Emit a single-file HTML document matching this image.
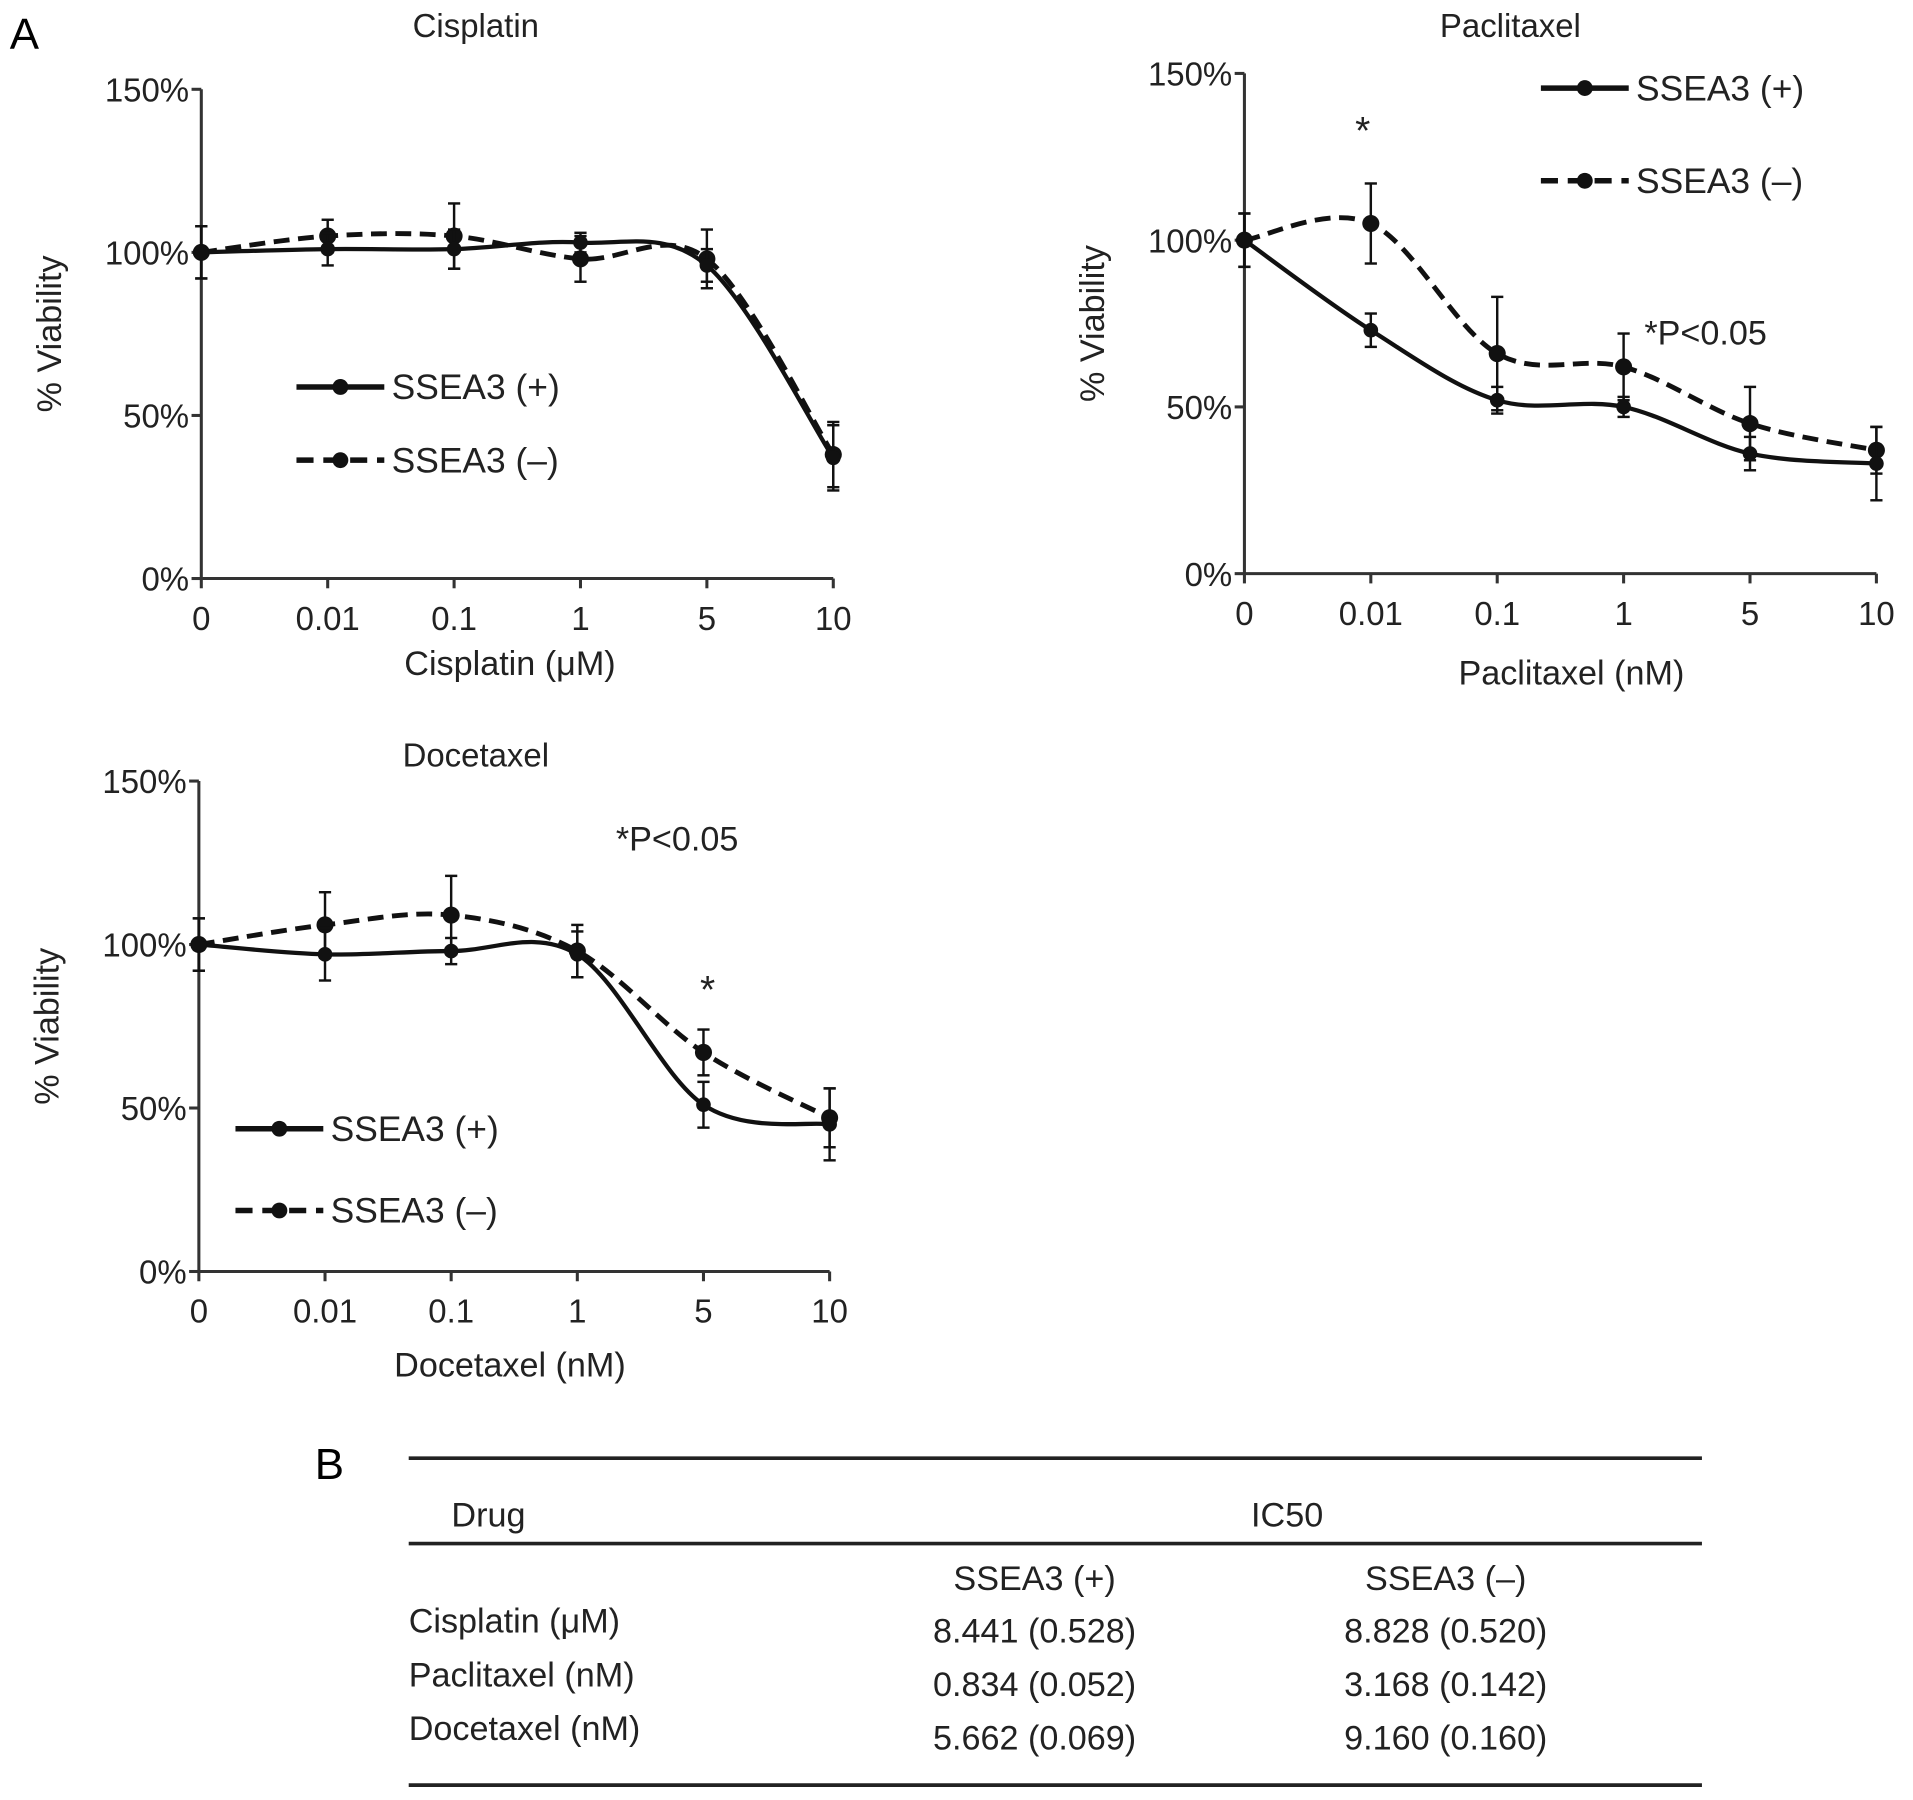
<!DOCTYPE html>
<html><head><meta charset="utf-8"><style>
html,body{margin:0;padding:0;background:#fff;}
svg{display:block;font-family:"Liberation Sans",sans-serif;}
</style></head><body>
<svg id="fig" width="1913" height="1800" viewBox="0 0 1568 1475" xmlns="http://www.w3.org/2000/svg">
<text x="8" y="40" font-size="36">A</text>
<text x="258" y="1212" font-size="36">B</text>
<g id="charts"></g>
<g font-size="28" fill="#222">
<line x1="335" y1="1195" x2="1395" y2="1195" stroke="#222" stroke-width="3"/>
<text x="370" y="1251">Drug</text>
<text x="1055" y="1251" text-anchor="middle">IC50</text>
<line x1="335" y1="1265" x2="1395" y2="1265" stroke="#222" stroke-width="3"/>
<text x="848" y="1303" text-anchor="middle">SSEA3 (+)</text>
<text x="1185" y="1303" text-anchor="middle">SSEA3 (–)</text>
<text x="335" y="1338">Cisplatin (μM)</text>
<text x="335" y="1382">Paclitaxel (nM)</text>
<text x="335" y="1426">Docetaxel (nM)</text>
<text x="848" y="1346" text-anchor="middle">8.441 (0.528)</text>
<text x="1185" y="1346" text-anchor="middle">8.828 (0.520)</text>
<text x="848" y="1390" text-anchor="middle">0.834 (0.052)</text>
<text x="1185" y="1390" text-anchor="middle">3.168 (0.142)</text>
<text x="848" y="1434" text-anchor="middle">5.662 (0.069)</text>
<text x="1185" y="1434" text-anchor="middle">9.160 (0.160)</text>
<line x1="335" y1="1463" x2="1395" y2="1463" stroke="#222" stroke-width="3"/>
</g>
</svg>
<script>
const categories = ["0","0.01","0.1","1","5","10"];
const yTicks = [0,50,100,150];
const cisPos = [100,101,101,103,96,37];
const cisNeg = [100,105,105,98,98,38];
const cisPosErr = [8,5,6,3,5,10];
const cisNegErr = [8,5,10,7,9,10];
const pacPos = [100,73,52,50,36,33];
const pacNeg = [100,105,66,62,45,37];
const pacPosErr = [8,5,4,3,5,11];
const pacNegErr = [8,12,17,10,11,7];
const docPos = [100,97,98,97,51,45];
const docNeg = [100,106,109,98,67,47];
const docPosErr = [8,8,4,7,7,11];
const docNegErr = [8,10,12,8,7,9];

const NS="http://www.w3.org/2000/svg";
const root=document.getElementById('charts');
function mk(tag,attrs,parent){const e=document.createElementNS(NS,tag);for(const k in attrs)e.setAttribute(k,attrs[k]);(parent||root).appendChild(e);return e;}
function spline(pts){let d=`M${pts[0][0]},${pts[0][1]}`;for(let i=0;i<pts.length-1;i++){const p0=pts[Math.max(0,i-1)],p1=pts[i],p2=pts[i+1],p3=pts[Math.min(pts.length-1,i+2)];const c1=[p1[0]+(p2[0]-p0[0])/6,p1[1]+(p2[1]-p0[1])/6];const c2=[p2[0]-(p3[0]-p1[0])/6,p2[1]-(p3[1]-p1[1])/6];d+=` C${c1[0]},${c1[1]} ${c2[0]},${c2[1]} ${p2[0]},${p2[1]}`;}return d;}

function chart(cfg){
  const g=mk('g',{});
  
  
  const xs=i=>cfg.x0+i*(cfg.x1-cfg.x0)/(categories.length-1);
  const ys=v=>cfg.y0-(v/150)*(cfg.y0-cfg.y150);
  const ax=mk('path',{d:`M${cfg.x0},${cfg.y150} L${cfg.x0},${cfg.y0} L${cfg.x1},${cfg.y0}`,fill:'none',stroke:'#333','stroke-width':2.5},g);
  
  
  yTicks.forEach(t=>{const y=ys(t);mk('line',{x1:cfg.x0-8,y1:y,x2:cfg.x0,y2:y,stroke:'#333','stroke-width':2.5},g);
    const tx=mk('text',{x:cfg.x0-10,y:y+10,'font-size':27,'text-anchor':'end',fill:'#222'},g);tx.textContent=t+'%';
    
    });
  categories.forEach((c,i)=>{const x=xs(i);mk('line',{x1:x,y1:cfg.y0,x2:x,y2:cfg.y0+8,stroke:'#333','stroke-width':2.5},g);
    const tx=mk('text',{x:x,y:cfg.y0+42,'font-size':27,'text-anchor':'middle',fill:'#222'},g);tx.textContent=c;
    
    });
  const tt=mk('text',{x:cfg.titleX,y:cfg.titleY,'font-size':27,'text-anchor':'middle',fill:'#222'},g);tt.textContent=cfg.title;
  
  
  const xl=mk('text',{x:cfg.xlX||(cfg.x0+cfg.x1)/2,y:cfg.xlY,'font-size':28,'text-anchor':'middle',fill:'#222'},g);xl.textContent=cfg.xlabel;
  
  
  const yl=mk('text',{x:0,y:0,'font-size':28,'text-anchor':'middle',fill:'#222',transform:`translate(${cfg.x0-115},${ys(75)}) rotate(-90)`},g);yl.textContent='% Viability';
  
  
  [[cfg.neg,cfg.negErr,'12,7','series-neg'],[cfg.pos,cfg.posErr,null,'series-pos']].forEach(([vals,errs,dash,nm])=>{
    const sg=mk('g',{},g);
    
    
    const pts=vals.map((v,i)=>[xs(i),ys(v)]);
    const p=mk('path',{d:spline(pts),fill:'none',stroke:'#111','stroke-width':dash?4:3.5},sg);
    if(dash)p.setAttribute('stroke-dasharray','13,7');
    
    
    vals.forEach((v,i)=>{const x=xs(i),e=errs[i];
      mk('line',{x1:x,y1:ys(v+e),x2:x,y2:ys(v-e),stroke:'#111','stroke-width':2},sg);
      mk('line',{x1:x-5,y1:ys(v+e),x2:x+5,y2:ys(v+e),stroke:'#111','stroke-width':2},sg);
      mk('line',{x1:x-5,y1:ys(v-e),x2:x+5,y2:ys(v-e),stroke:'#111','stroke-width':2},sg);
      const c=mk('circle',{cx:x,cy:ys(v),r:dash?7:6,fill:'#111'},sg);
      
      });
  });
  const lg=mk('g',{},g);
  
  
  [[0,null,'SSEA3 (+)'],[cfg.legGap,'14,8','SSEA3 (–)']].forEach(([dy,dash,lab])=>{
    const y=cfg.legY+dy;
    const l=mk('line',{x1:cfg.legX,y1:y,x2:cfg.legX+72,y2:y,stroke:'#111','stroke-width':4.5},lg);
    if(dash)l.setAttribute('stroke-dasharray',dash);
    mk('circle',{cx:cfg.legX+36,cy:y,r:6.5,fill:'#111'},lg);
    const t=mk('text',{x:cfg.legX+78,y:y+10,'font-size':29,fill:'#222'},lg);t.textContent=lab;
    
    
  });
  (cfg.notes||[]).forEach(n=>{const t=mk('text',{x:n[0],y:n[1],'font-size':n[3]||28,'text-anchor':'middle',fill:'#222'},g);t.textContent=n[2];
    
    });
}
chart({name:'cisplatin',x0:165,x1:683,y0:474,y150:73,title:'Cisplatin',titleX:390,titleY:30,xlabel:'Cisplatin (μM)',xlX:418,xlY:553,
  pos:cisPos,neg:cisNeg,posErr:cisPosErr,negErr:cisNegErr,legX:243,legY:317,legGap:60});
chart({name:'paclitaxel',x0:1020,x1:1538,y0:470,y150:60,title:'Paclitaxel',titleX:1238,titleY:30,xlabel:'Paclitaxel (nM)',xlX:1288,xlY:561,
  pos:pacPos,neg:pacNeg,posErr:pacPosErr,negErr:pacNegErr,legX:1263,legY:72,legGap:76,
  notes:[[1117,118,'*',32],[1398,282,'*P<0.05']]});
chart({name:'docetaxel',x0:163,x1:680,y0:1042,y150:640,title:'Docetaxel',titleX:390,titleY:628,xlabel:'Docetaxel (nM)',xlX:418,xlY:1128,
  pos:docPos,neg:docNeg,posErr:docPosErr,negErr:docNegErr,legX:193,legY:925,legGap:67,
  notes:[[555,697,'*P<0.05'],[580,822,'*',32]]});
</script>
</body></html>
